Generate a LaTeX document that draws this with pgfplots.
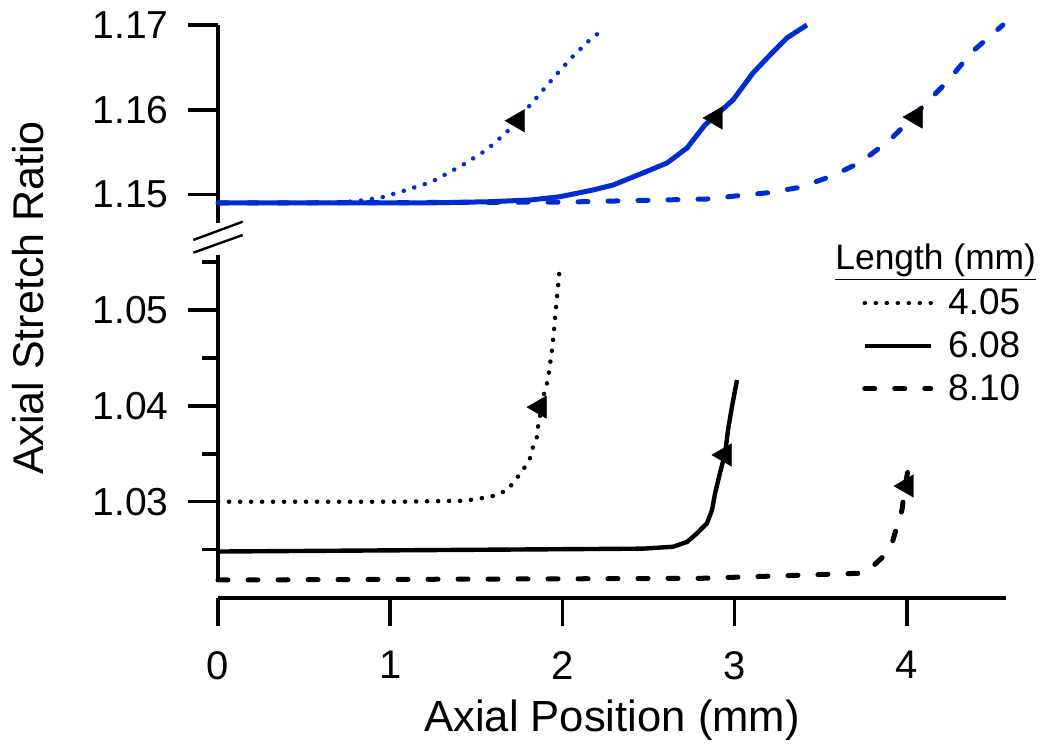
\documentclass[border=0pt]{standalone}
\usepackage{fontspec}
\setmainfont{Liberation Sans}
\usepackage{pgfplots}
\pgfplotsset{compat=1.18}
\definecolor{lineblue}{RGB}{0,45,210}
\newcommand{\legfont}{\fontsize{18.5}{20}\selectfont}

\pgfplotsset{
  panel/.style={
    scale only axis, width=394pt, xmin=0, xmax=4.575,
    axis x line=none, axis y line=left, xtick=\empty,
    axis line style={-, line width=1.75pt},
    tick align=outside, major tick length=15pt, minor tick length=8pt,
    tick style={black, line width=1.75pt},
    yticklabel style={font=\fontsize{19.5}{21}\selectfont, anchor=east, inner sep=0pt, xshift=-9.5pt},
    clip=false, anchor=south west,
  },
  dotline/.style={line width=2.2pt, line cap=round, dash pattern=on 0.1pt off 5.4pt},
  solidline/.style={line width=2.2pt, solid},
  dashline/.style={line width=2.5pt, line cap=round, dash pattern=on 5pt off 10pt},
  arrowmark/.style={only marks, mark=triangle*, mark size=6.5pt, forget plot,
    mark options={rotate=90, fill=black, draw=black, solid, line width=0.2pt}},
}

\begin{document}
\begin{tikzpicture}
\path[use as bounding box] (0,0) rectangle (525pt,377.5pt);

% upper panel
\begin{axis}[panel, at={(109pt,266pt)}, height=99pt,
  ymin=1.14664, ymax=1.17,
  ytick={1.15,1.16,1.17}, yticklabels={1.15,1.16,1.17}]
\addplot[lineblue, dotline] coordinates {
(0,1.1490) (0.6,1.1490) (0.8,1.1492) (0.94,1.1496) (1.057,1.1503) (1.242,1.1515)
(1.422,1.1535) (1.562,1.1553) (1.678,1.1574) (1.840,1.1612) (1.945,1.1637)
(2.055,1.1662) (2.177,1.1686) (2.247,1.1695)};
\addplot[lineblue, solidline, line width=2.5pt] coordinates {
(0,1.1490) (1.2,1.1490) (1.579,1.14915) (1.811,1.14935) (1.985,1.14974) (2.177,1.15053)
(2.293,1.15112) (2.467,1.15254) (2.607,1.15372) (2.723,1.15549) (2.827,1.1582)
(2.874,1.15903) (2.990,1.16115) (3.106,1.16434) (3.205,1.16646) (3.303,1.16847) (3.419,1.1700)};
\addplot[lineblue, dashline] coordinates {
(0,1.1490) (2.0,1.1491) (2.839,1.14947) (3.019,1.14986) (3.193,1.15021) (3.379,1.15085)
(3.553,1.1521) (3.727,1.15375) (3.901,1.15643) (4.035,1.15914) (4.116,1.1609)
(4.232,1.16327) (4.377,1.16681) (4.557,1.1700)};
\addplot[arrowmark] coordinates {(1.742,1.1587) (2.891,1.15903) (4.052,1.15914)};
\end{axis}

% lower panel
\begin{axis}[panel, at={(109pt,86.5pt)}, height=163.5pt,
  ymin=1.02162, ymax=1.05575,
  ytick={1.03,1.04,1.05}, yticklabels={1.03,1.04,1.05},
  minor ytick={1.025,1.035,1.045,1.055},
  legend style={draw=none, fill=none, at={(axis description cs:0.817,0.898)},
    anchor=north west, inner sep=0pt, row sep=7pt,
    nodes={inner sep=0pt},
    /tikz/every odd column/.append style={column sep=7.5pt}},
  legend cell align=left,
  legend image code/.code={\draw[#1] (0pt,0pt) -- (33pt,0pt);}]
\addplot[black, dotline] coordinates {
(0,1.0300) (1.057,1.0300) (1.434,1.0301) (1.562,1.03046) (1.620,1.0307) (1.684,1.03129)
(1.730,1.03234) (1.777,1.03349) (1.811,1.03453) (1.829,1.03574) (1.852,1.03678)
(1.858,1.03783) (1.881,1.0400) (1.893,1.04132) (1.910,1.04236) (1.922,1.04357)
(1.939,1.04584) (1.951,1.04792) (1.962,1.05019) (1.974,1.05244) (1.986,1.05471)};
\addlegendentry{\legfont 4.05}
\addplot[black, solidline] coordinates {
(0,1.0248) (2.467,1.0251) (2.642,1.0253) (2.723,1.0258) (2.781,1.0267) (2.839,1.02775)
(2.868,1.02913) (2.886,1.03088) (2.914,1.03296) (2.944,1.03505) (2.961,1.03748)
(2.984,1.03992) (3.013,1.0427)};
\addlegendentry{\legfont 6.08}
\addplot[black, dashline] coordinates {
(0,1.02183) (2.798,1.0220) (3.727,1.02253) (3.768,1.02269) (3.861,1.02426)
(3.913,1.02566) (3.948,1.02775) (3.971,1.02913) (3.989,1.03157) (4.006,1.03331) (4.023,1.03487)};
\addlegendentry{\legfont 8.10}
\addplot[arrowmark] coordinates {(1.869,1.03987) (2.943,1.03488) (4.0,1.03164)};
\end{axis}

% x axis, set apart below the lower panel
\begin{axis}[scale only axis, width=394pt, height=10pt, at={(109pt,78.5pt)}, anchor=south west,
  xmin=0, xmax=4.575, ymin=0, ymax=1,
  axis x line=bottom, axis y line=none, ytick=\empty,
  xtick={0,1,2,3,4}, xticklabels={0,1,2,3,4},
  axis line style={-, line width=1.75pt},
  tick align=outside, major tick length=14pt, tick style={black, line width=1.75pt},
  xticklabel style={font=\fontsize{20}{22}\selectfont, anchor=north, inner sep=0pt, yshift=-12.5pt}]
\end{axis}

% break marks on the y axis
\draw[line width=1.2pt] (96.65pt,257.5pt) -- (121.35pt,266.65pt);
\draw[line width=1.2pt] (96.65pt,251.15pt) -- (121.35pt,260pt);

% legend title and axis labels
\node[anchor=base west, inner sep=0pt, font=\fontsize{17.7}{20}\selectfont]
  at (417.5pt,242.85pt) {\underline{Length (mm)}};
\node[rotate=90, font=\fontsize{21.5}{24}\selectfont] at (14pt,228.5pt) {Axial Stretch Ratio};
\node[font=\fontsize{21.8}{24}\selectfont] at (306pt,17.5pt) {Axial Position (mm)};
\end{tikzpicture}
\end{document}
